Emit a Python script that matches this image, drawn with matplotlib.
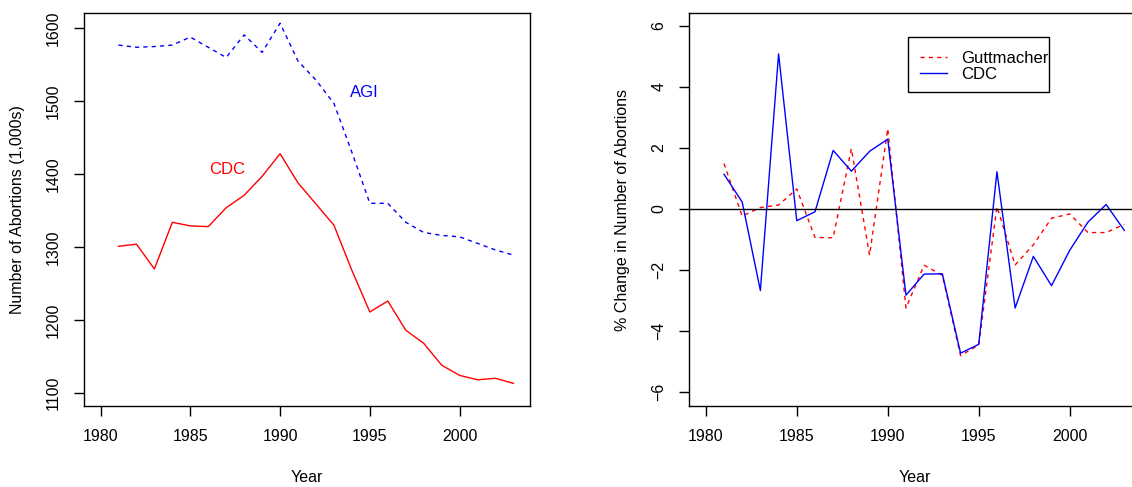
import numpy as np
import matplotlib.pyplot as plt
from matplotlib.patches import Rectangle

plt.rcParams['font.family'] = ['Liberation Sans', 'DejaVu Sans']
plt.rcParams['font.size'] = 11.5

years = np.arange(1981, 2004)

# number of abortions (1,000s)
agi = [1577, 1574, 1575, 1577, 1588, 1574, 1560, 1591, 1567, 1607,
       1555, 1529, 1497, 1430, 1360, 1360, 1334, 1320, 1316, 1314,
       1305, 1296, 1289]
cdc = [1301, 1304, 1270, 1334, 1329, 1328, 1354, 1371, 1397, 1428,
       1388, 1359, 1330, 1268, 1211, 1226, 1186, 1168, 1138, 1124,
       1118, 1120, 1113]

# % change
gutt_pct = [1.49, -0.23, 0.05, 0.13, 0.66, -0.93, -0.94, 1.98, -1.51, 2.63,
            -3.24, -1.84, -2.17, -4.80, -4.45, 0.08, -1.83, -1.17, -0.30, -0.16,
            -0.77, -0.77, -0.50]
cdc_pct = [1.14, 0.23, -2.67, 5.08, -0.38, -0.09, 1.92, 1.24, 1.89, 2.29,
           -2.82, -2.13, -2.12, -4.72, -4.43, 1.22, -3.24, -1.55, -2.51, -1.35,
           -0.43, 0.15, -0.70]

xticks = [1980, 1985, 1990, 1995, 2000]

W, H = 1132, 487
fig = plt.figure(figsize=(W / 100, H / 100), dpi=100)
ax1 = fig.add_axes([0.0742, 0.1663, 0.394, 0.807])
ax2 = fig.add_axes([0.6087, 0.1663, 0.3993, 0.807])

# left panel
ax1.plot(years, agi, color='blue', lw=1.0, dashes=(3, 3))
ax1.plot(years, cdc, color='red', lw=1.0)
ax1.text(1994.7, 1512, 'AGI', color='blue', ha='center', va='center', fontsize=12)
ax1.text(1987.05, 1406, 'CDC', color='red', ha='center', va='center', fontsize=12)
ax1.set_xlim(1979.08, 2003.92)
ax1.set_ylim(1082, 1621)
ax1.set_yticks([1100, 1200, 1300, 1400, 1500, 1600])
ax1.set_ylabel('Number of Abortions (1,000s)', labelpad=15)

# right panel
ax2.plot(years, gutt_pct, color='red', lw=1.0, dashes=(3, 3), label='Guttmacher')
ax2.plot(years, cdc_pct, color='blue', lw=1.0, label='CDC')
ax2.axhline(0, color='black', lw=1.0)
ax2.set_xlim(1979.08, 2003.92)
ax2.set_ylim(-6.45, 6.42)
ax2.set_yticks([-6, -4, -2, 0, 2, 4, 6])
ax2.set_yticklabels(['\u22126', '\u22124', '\u22122', '0', '2', '4', '6'])
ax2.set_ylabel('% Change in Number of Abortions', labelpad=15)
ax2.legend(loc='upper left', bbox_to_anchor=(920 / W, 1 - 51 / H),
           bbox_transform=fig.transFigure, frameon=False, fontsize=12,
           borderpad=0, borderaxespad=0, handlelength=1.6,
           labelspacing=0.05, handletextpad=0.85)
fig.patches.append(Rectangle((908 / W, 1 - 92 / H), 141 / W, 55 / H,
                             transform=fig.transFigure, fill=False,
                             edgecolor='black', lw=1.0))

for ax in (ax1, ax2):
    ax.set_xticks(xticks)
    ax.set_xlabel('Year', labelpad=19)
    ax.tick_params(length=7, width=1.0, pad=9.5)
    for lab in ax.get_yticklabels():
        lab.set_rotation(90)
        lab.set_va('center')
    for s in ax.spines.values():
        s.set_linewidth(1.0)

fig.savefig('out.png', dpi=100)
